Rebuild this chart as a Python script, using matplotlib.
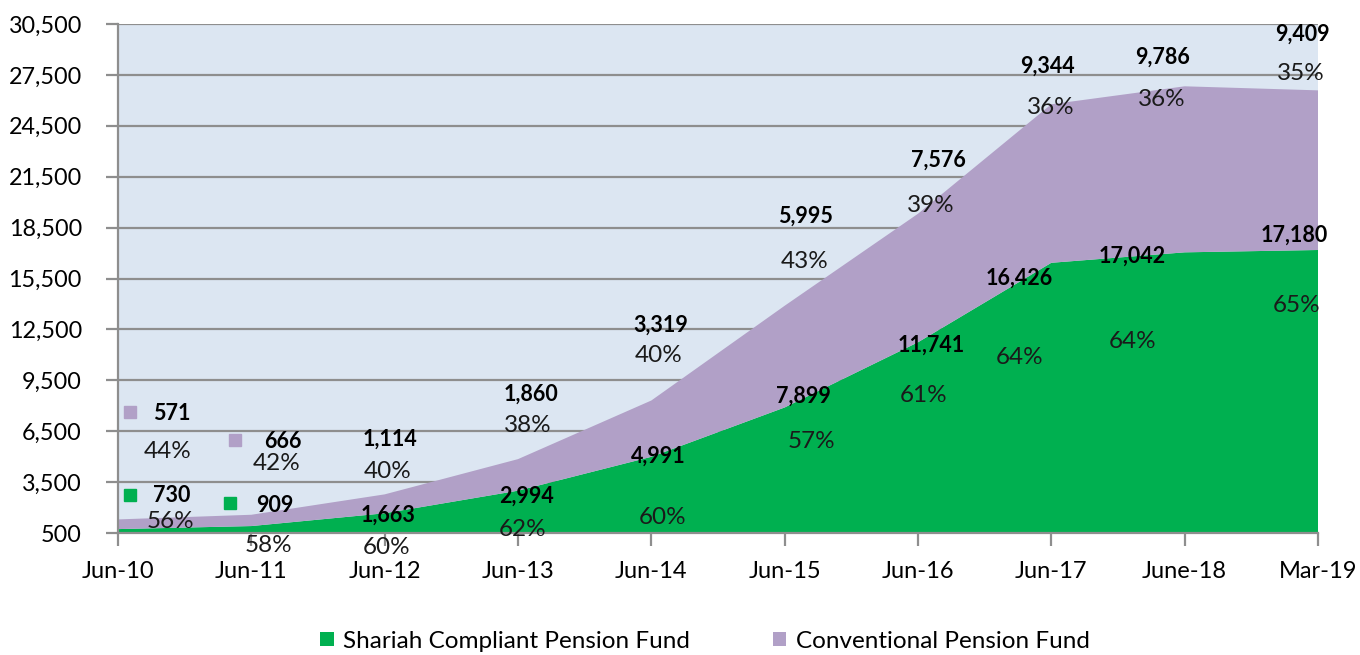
import matplotlib
matplotlib.use("Agg")
import matplotlib.pyplot as plt
from matplotlib.patches import Patch
from matplotlib.ticker import FuncFormatter

# ---- data ----
categories = ["Jun-10", "Jun-11", "Jun-12", "Jun-13", "Jun-14", "Jun-15",
              "Jun-16", "Jun-17", "June-18", "Mar-19"]
shariah = [730, 909, 1663, 2994, 4991, 7899, 11741, 16426, 17042, 17180]
conventional = [571, 666, 1114, 1860, 3319, 5995, 7576, 9344, 9786, 9409]
shariah_pct = ["56%", "58%", "60%", "62%", "60%", "57%", "61%", "64%", "64%", "65%"]
conv_pct = ["44%", "42%", "40%", "38%", "40%", "43%", "39%", "36%", "36%", "35%"]
yticks = list(range(500, 30501, 3000))
series_names = ["Shariah Compliant Pension Fund", "Conventional Pension Fund"]

# ---- layout (label centres in figure pixels) ----
W, H = 1360, 655
conv_val_pos = [(172, 414), (283, 441), (390, 439), (531, 394), (661, 325),
                (805, 216), (938, 160), (1047, 66), (1163, 57), (1302, 34)]
conv_pct_pos = [(168, 452), (277, 463), (388, 472), (528, 426), (659, 355),
                (805, 262), (931, 205), (1051, 107), (1162, 99), (1301, 74)]
sh_val_pos = [(172, 496), (275, 505), (388, 515), (526, 496), (658, 456),
              (803, 396), (931, 345), (1019, 278), (1132, 256), (1294, 235)]
sh_pct_pos = [(170, 522), (268, 545), (387, 547), (523, 530), (663, 517),
              (811, 442), (924, 396), (1020, 357), (1133, 342), (1297, 305)]
key_squares = [((130, 412), 1), ((235, 440), 1), ((130, 495), 0), ((230, 503), 0)]

GREEN = "#00B050"
PURPLE = "#B1A0C7"
BG = "#DCE6F2"
GRID = "#8E8E8E"
FONT = "Lato"

plt.rcParams['font.family'] = [FONT, 'DejaVu Sans']

fig = plt.figure(figsize=(W / 100, H / 100), dpi=100)
ax = fig.add_axes([118 / W, 1 - 533 / H, (1318 - 118) / W, (533 - 24) / H])
ax.set_facecolor(BG)

x = list(range(len(categories)))
ax.stackplot(x, shariah, conventional, colors=[GREEN, PURPLE], linewidth=0, zorder=2)

ax.set_xlim(0, len(categories) - 1)
ax.set_ylim(500, 30500)
ax.set_yticks(yticks)
ax.yaxis.set_major_formatter(FuncFormatter(lambda v, p: f"{int(v):,}"))
ax.set_xticks(x)
ax.set_xticklabels(categories)
ax.grid(axis='y', color=GRID, linewidth=1.6, zorder=1)
ax.set_axisbelow(True)

for s in ["top", "right"]:
    ax.spines[s].set_visible(False)
for s in ["left", "bottom"]:
    ax.spines[s].set_color(GRID)
    ax.spines[s].set_linewidth(1.6)
    ax.spines[s].set_zorder(3)

ax.tick_params(axis='y', length=9, width=1.6, color=GRID, pad=17,
               labelsize=16.8, labelcolor="black")
ax.tick_params(axis='x', length=9, width=1.6, color=GRID, pad=11,
               labelsize=17, labelcolor="black")


def fpos(p):
    return p[0] / W, 1 - p[1] / H


for i in range(len(categories)):
    fig.text(*fpos(conv_val_pos[i]), f"{conventional[i]:,}", ha="center", va="center",
             fontsize=15.5, fontweight="bold", color="black", zorder=5)
    fig.text(*fpos(conv_pct_pos[i]), conv_pct[i], ha="center", va="center",
             fontsize=17.5, color="#1a1a1a", zorder=5)
    fig.text(*fpos(sh_val_pos[i]), f"{shariah[i]:,}", ha="center", va="center",
             fontsize=15.5, fontweight="bold", color="black", zorder=5)
    fig.text(*fpos(sh_pct_pos[i]), shariah_pct[i], ha="center", va="center",
             fontsize=17.5, color="#1a1a1a", zorder=5)

colors = [GREEN, PURPLE]
for (p, s) in key_squares:
    fx, fy = fpos(p)
    fig.patches.append(plt.Rectangle((fx - 6 / W, fy - 6 / H), 12 / W, 12 / H,
                                     transform=fig.transFigure, color=colors[s],
                                     zorder=6))

handles = [Patch(facecolor=GREEN, edgecolor="none"),
           Patch(facecolor=PURPLE, edgecolor="none")]
fig.legend(handles, series_names, loc="center", bbox_to_anchor=(705 / W, 1 - 641 / H),
           ncol=2, frameon=False, fontsize=17.5, handlelength=0.55, handleheight=0.55,
           handletextpad=0.4, columnspacing=3.4)

fig.savefig("out.png", dpi=100)
